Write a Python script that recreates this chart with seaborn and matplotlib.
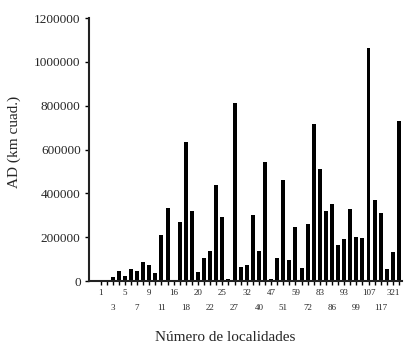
import pandas as pd
import numpy as np
import matplotlib
matplotlib.use("Agg")
import matplotlib.pyplot as plt
import seaborn as sns

# %% data
localidades = ['1', '3', '5', '7', '9', '11', '16', '18', '20', '22', '25', '27', '32',
               '40', '47', '51', '59', '72', '83', '86', '93', '99', '107', '117', '321']
ad = [0, 0, 20000, 45000, 24000, 56000, 45000, 88000, 74000, 35000,
      208000, 332000, 5000, 270000, 633000, 320000, 43000, 106000, 137000, 438000,
      293000, 10000, 810000, 65000, 73000, 300000, 135000, 545000, 10000, 106000,
      461000, 94000, 246000, 59000, 259000, 716000, 510000, 320000, 353000, 164000,
      192000, 327000, 199000, 195000, 1065000, 370000, 310000, 55000, 131000, 730000]
y_ticks = [0, 200000, 400000, 600000, 800000, 1000000, 1200000]

df = pd.DataFrame({'pos': range(len(ad)), 'ad': ad})

# %% plot
sns.set_style('ticks')
plt.rcParams['font.family'] = ['Liberation Serif', 'DejaVu Serif']

fig = plt.figure(figsize=(4.07, 3.48), dpi=100)
ax = fig.add_axes([0.2187, 0.1925, 0.769, 0.7557])

sns.barplot(data=df, x='pos', y='ad', color='black', width=0.65,
            errorbar=None, saturation=1, edgecolor='black', linewidth=0, ax=ax)

ax.set_xlim(-1.9, 49.5)
ax.set_ylim(0, 1200000)
ax.set_yticks(y_ticks)
ax.set_yticklabels([str(v) for v in y_ticks], fontsize=9.5)

# labels on every other bar, alternating between two rows
xt_labels = []
for i in range(len(ad)):
    if i % 2 == 0 and i // 2 < len(localidades):
        lab = localidades[i // 2]
        xt_labels.append(lab if (i // 2) % 2 == 0 else '\n' + lab)
    else:
        xt_labels.append('')
ax.set_xticks(range(len(ad)))
ax.set_xticklabels(xt_labels, fontsize=6.5, linespacing=2.1)

ax.tick_params(axis='both', direction='out', length=3, width=1, color='black', pad=3)
for s in ['top', 'right']:
    ax.spines[s].set_visible(False)
for s in ['left', 'bottom']:
    ax.spines[s].set_linewidth(1.5)
    ax.spines[s].set_color('#222222')

ax.set_ylabel('AD (km cuad.)', fontsize=11)
ax.set_xlabel('Número de localidades', fontsize=11)
ax.yaxis.set_label_coords(-0.217, 0.53)
ax.xaxis.set_label_coords(0.435, -0.19)

fig.savefig('out.png', dpi=100)
